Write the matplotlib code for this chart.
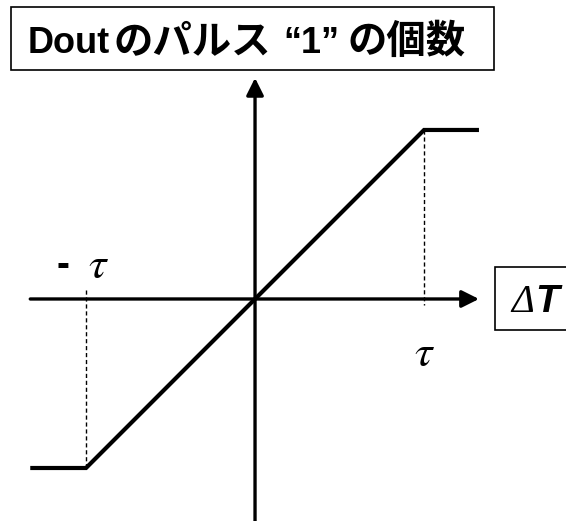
import matplotlib
matplotlib.use("Agg")
import matplotlib.pyplot as plt
from matplotlib.patches import Rectangle

# transfer curve: pulse count vs delta T (normalised to tau)
delta_t = [-1.33, -1.0, 1.0, 1.325]
count = [-1.0, -1.0, 1.0, 1.0]
tau = 1.0

# title pieces (latin / japanese are set at different sizes)
title_parts = ["Dout", "のパルス", "“1”", "の個数"]
title_x = [28, 113, 283, 348]

plt.rcParams["mathtext.fontset"] = "stix"
latin = "Liberation Sans"
jp_font = ["Noto Sans CJK JP", "DejaVu Sans"]

W, H = 566, 521


def px(x, y):
    """pixel position -> figure fraction"""
    return x / W, 1 - y / H


fig = plt.figure(figsize=(W / 100, H / 100), dpi=100)
ax = fig.add_axes([0, 0, 1, 1])
ax.set_xlim(-1.509, 1.840)
ax.set_ylim(-1.3136, 1.769)
ax.axis("off")

# axes with arrows
arrow = dict(arrowstyle="-|>", lw=2.4, color="black",
             mutation_scale=26, shrinkA=0, shrinkB=0)
ax.annotate("", xy=(1.325, 0), xytext=(-1.33, 0), arrowprops=arrow)
ax.annotate("", xy=(0, 1.308), xytext=(0, -1.4), arrowprops=arrow)

# dashed guides at +/- tau
ax.plot([-tau, -tau], [0.053, count[0]], color="black", lw=1, ls=(0, (3, 2)))
ax.plot([tau, tau], [count[-1], -0.036], color="black", lw=1, ls=(0, (3, 2)))

# the curve
ax.plot(delta_t, count, color="black", lw=3, solid_joinstyle="miter",
        solid_capstyle="butt")

# title box
x0, y0 = px(11, 70)
fig.patches.append(Rectangle((x0, y0), 483 / W, 63 / H, transform=fig.transFigure,
                             fc="white", ec="black", lw=1.2))
for part, xp in zip(title_parts, title_x):
    is_jp = any(ord(c) > 0x3000 for c in part)
    fig.text(*px(xp, 53), part, family=jp_font if is_jp else latin,
             fontsize=28.4 if is_jp else 26, fontweight="bold",
             va="baseline", ha="left")

# delta T box
x0, y0 = px(495, 330)
fig.patches.append(Rectangle((x0, y0), 80 / W, 63 / H, transform=fig.transFigure,
                             fc="white", ec="black", lw=1.2))
fig.text(*px(511, 312), "Δ", family="Liberation Serif", fontsize=28,
         fontstyle="italic", va="baseline", ha="left")
fig.text(*px(535, 312), "T", family=latin, fontsize=28,
         fontweight="bold", fontstyle="italic", va="baseline", ha="left")

# tau labels
fig.text(*px(63, 266), "-", family=latin, fontsize=28,
         fontweight="bold", va="center", ha="center")
fig.text(*px(98, 266), r"$\tau$", fontsize=32, va="center", ha="center")
fig.text(*px(424, 353), r"$\tau$", fontsize=32, va="center", ha="center")

fig.savefig("out.png", dpi=100)
